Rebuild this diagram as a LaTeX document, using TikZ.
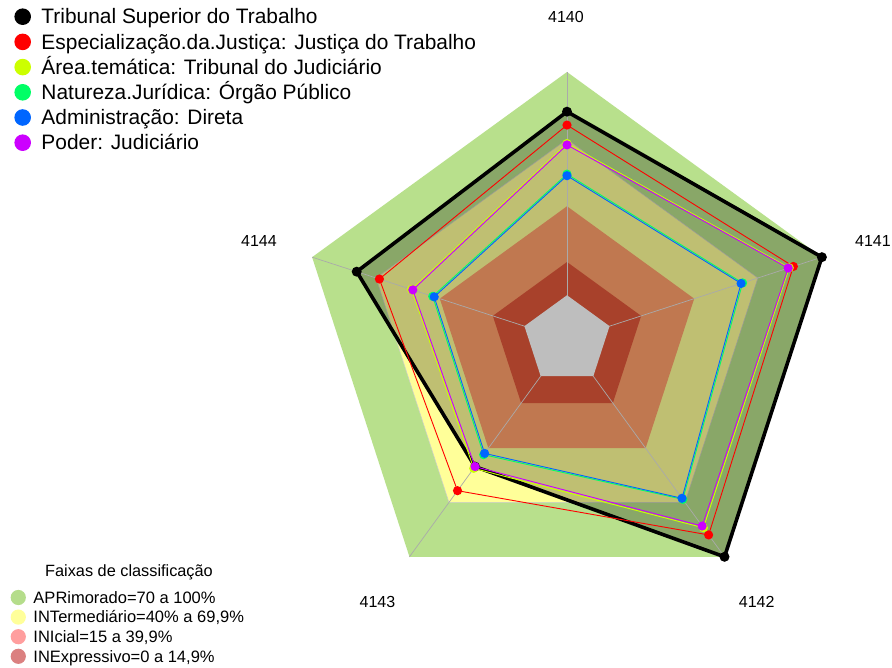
\documentclass[tikz,border=0pt]{standalone}
\usepackage{fontspec}
\setmainfont{Liberation Sans}
\definecolor{bandgreen}{HTML}{B8E08C}
\definecolor{bandyellow}{HTML}{FFFF99}
\definecolor{bandorange}{HTML}{C07850}
\definecolor{banddark}{HTML}{A8412B}
\definecolor{bandgray}{HTML}{BEBEBE}
\definecolor{sred}{HTML}{FF0000}
\definecolor{syellow}{HTML}{CCFF00}
\definecolor{sgreen}{HTML}{00FF66}
\definecolor{sblue}{HTML}{0066FF}
\definecolor{spurple}{HTML}{CC00FF}
\definecolor{lgreen}{HTML}{B5DD8B}
\definecolor{lyellow}{HTML}{FFFF9A}
\definecolor{lpink}{HTML}{FF9E9E}
\definecolor{ldark}{HTML}{DB8080}
\definecolor{spokecol}{HTML}{AAAAAA}
\tikzset{
  rp/.style n args={5}{insert path={(90:{268*#1}) -- (18:{268*#2}) -- (-54:{268*#3}) -- (-126:{268*#4}) -- (162:{268*#5}) -- cycle}},
  spoke/.style={draw=spokecol, line width=0.7pt},
  bandline/.style={draw=spokecol!60, line width=0.5pt},
  thinser/.style={line width=0.9pt, line join=round},
  thickser/.style={line width=3.6pt, line join=miter},
  axlabel/.style={anchor=base, inner sep=0pt, font=\fontsize{16}{19}\selectfont},
  legtitle/.style={anchor=base, inner sep=0pt, font=\fontsize{16.3}{19}\selectfont},
  toplegend/.style={anchor=base west, inner sep=0pt, font=\fontsize{20.9}{24}\selectfont},
  botlegend/.style={anchor=base west, inner sep=0pt, font=\fontsize{16.5}{19}\selectfont},
}
\begin{document}
\begin{tikzpicture}[x=1pt,y=1pt]
\useasboundingbox (-567,-328) rectangle (325,340);
\fill[white] (-567,-328) rectangle (325,340);

% classification bands
\path[fill=bandgreen, rp={1}{1}{1}{1}{1}];
\path[fill=bandyellow, bandline, rp={0.749}{0.749}{0.749}{0.749}{0.749}];
% translucent fill of the black series
\path[fill=black, fill opacity=0.25, rp={0.852}{1.0}{1.0}{0.584}{0.825}];
\path[fill=bandorange, rp={0.499}{0.499}{0.499}{0.499}{0.499}];
\path[fill=banddark, rp={0.291}{0.291}{0.291}{0.291}{0.291}];
% spokes
\foreach \a in {90,18,-54,-126,162} \draw[spoke] (0,0) -- (\a:268);
\path[fill=bandgray, rp={0.167}{0.167}{0.167}{0.167}{0.167}];

% series: Tribunal Superior do Trabalho
\path[draw=black, thickser, rp={0.852}{1.0}{1.0}{0.584}{0.825}];
\foreach \a/\r in {90/0.852,18/1.0,-54/1.0,-126/0.584,162/0.825}
  \fill[black] (\a:{268*\r}) circle (5);
% Especializacao
\path[draw=sred, thinser, rp={0.802}{0.888}{0.899}{0.695}{0.736}];
\foreach \a/\r in {90/0.802,18/0.888,-54/0.899,-126/0.695,162/0.736}
  \fill[sred] (\a:{268*\r}) circle (4.6);
% Area tematica
\path[draw=syellow, thinser, rp={0.733}{0.872}{0.866}{0.592}{0.610}];
\foreach \a/\r in {90/0.733,18/0.872,-54/0.866,-126/0.592,162/0.610}
  \fill[syellow] (\a:{268*\r}) circle (4.6);
% Natureza juridica
\path[draw=sgreen, thinser, rp={0.619}{0.689}{0.735}{0.529}{0.527}];
\foreach \a/\r in {90/0.619,18/0.689,-54/0.735,-126/0.529,162/0.527}
  \fill[sgreen] (\a:{268*\r}) circle (4.6);
% Administracao
\path[draw=sblue, thinser, rp={0.613}{0.683}{0.730}{0.523}{0.521}];
\foreach \a/\r in {90/0.613,18/0.683,-54/0.730,-126/0.523,162/0.521}
  \fill[sblue] (\a:{268*\r}) circle (4.6);
% Poder
\path[draw=spurple, thinser, rp={0.728}{0.868}{0.858}{0.584}{0.605}];
\foreach \a/\r in {90/0.728,18/0.868,-54/0.858,-126/0.584,162/0.605}
  \fill[spurple] (\a:{268*\r}) circle (4.6);

% axis labels
\node[axlabel] (l4140) at (-1,317.5) {4140};
\node[axlabel] (l4141) at (306,93.5) {4141};
\node[axlabel] (l4142) at (189.7,-268) {4142};
\node[axlabel] (l4143) at (-189.5,-268) {4143};
\node[axlabel] (l4144) at (-308,93.5) {4144};

% top legend
\fill[black]   (-544.3,323.3) circle (8.3);
\fill[sred]    (-544.3,298.1) circle (8.3);
\fill[syellow] (-544.3,272.9) circle (8.3);
\fill[sgreen]  (-544.3,247.7) circle (8.3);
\fill[sblue]   (-544.3,222.5) circle (8.3);
\fill[spurple] (-544.3,197.3) circle (8.3);
\node[toplegend] (t1) at (-525.7,316.1) {Tribunal Superior do Trabalho};
\node[toplegend] (t2) at (-525.7,290.9) {Especialização.da.Justiça: Justiça do Trabalho};
\node[toplegend] (t3) at (-525.7,265.7) {Área.temática: Tribunal do Judiciário};
\node[toplegend] (t4) at (-525.7,240.5) {Natureza.Jurídica: Órgão Público};
\node[toplegend] (t5) at (-525.7,215.3) {Administração: Direta};
\node[toplegend] (t6) at (-525.7,190.1) {Poder: Judiciário};

% bottom legend
\node[legtitle] (btitle) at (-438,-236.7) {Faixas de classificação};
\fill[lgreen]  (-548.7,-257.5) circle (7.6);
\fill[lyellow] (-548.7,-277.1) circle (7.6);
\fill[lpink]   (-548.7,-296.7) circle (7.6);
\fill[ldark]   (-548.7,-316.3) circle (7.6);
\node[botlegend] (b1) at (-533.7,-263.3) {APRimorado=70 a 100\%};
\node[botlegend] (b2) at (-533.7,-282.9) {INTermediário=40\% a 69,9\%};
\node[botlegend] (b3) at (-533.7,-302.5) {INIcial=15 a 39,9\%};
\node[botlegend] (b4) at (-533.7,-322.1) {INExpressivo=0 a 14,9\%};
\end{tikzpicture}
\end{document}
